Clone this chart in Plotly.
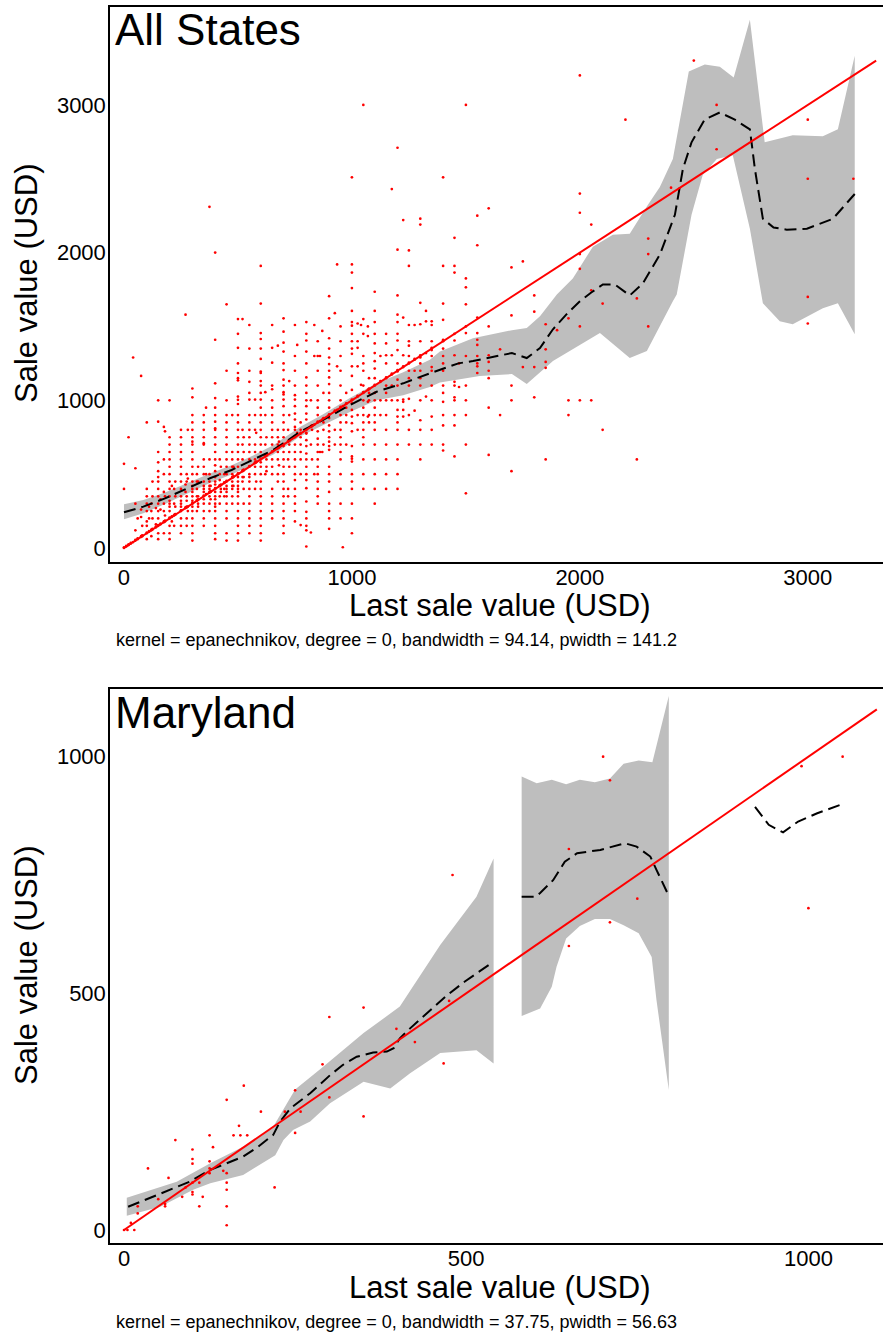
import plotly.graph_objects as go

# ---------------- data: All States (last sale value -> sale value) ----------------
# scatter points grouped by last-sale-value column
all_cols_x = [0, 10, 20, 30, 40, 50, 60, 75, 80, 100, 110, 120, 125, 140, 150, 160, 175, 180, 200, 210,
              220, 225, 250, 270, 275, 280, 300, 320, 325, 350, 360, 375, 380, 400, 420, 425, 440, 450,
              475, 480, 500, 520, 525, 550, 575, 580, 600, 620, 625, 650, 675, 680, 700, 720, 725, 750,
              760, 775, 800, 820, 825, 835, 850, 860, 870, 875, 900, 925, 935, 950, 960, 975, 1000,
              1025, 1040, 1050, 1070, 1075, 1100, 1125, 1150, 1175, 1200, 1225, 1250, 1275, 1300, 1325,
              1350, 1400, 1450, 1470, 1500, 1550, 1600, 1650, 1700, 1750, 1800, 1850, 1900, 1950, 2000,
              2050, 2100, 2200, 2250, 2300, 2400, 2500, 2600, 3000, 3200]
all_cols_y = [
    [0, 5, 400, 570],
    [10, 15],
    [20, 25, 750],
    [30, 35],
    [40, 1290],
    [50, 55, 540, 300, 120],
    [60, 65, 200],
    [75, 80, 1165, 210, 260],
    [80, 85, 150],
    [100, 105, 850, 250, 300, 180, 150, 400, 350, 60],
    [110, 115, 200, 280],
    [120, 125, 250, 300, 80],
    [125, 130, 350, 200, 450],
    [140, 145, 160, 270],
    [150, 155, 200, 250, 300, 350, 400, 855, 450, 520, 1000, 100, 60, 480, 580, 650],
    [160, 165, 260, 330],
    [175, 180, 100, 250, 300, 500, 600, 820, 380],
    [180, 185, 350, 790, 220],
    [200, 205, 150, 250, 300, 350, 400, 450, 500, 550, 600, 100, 1000, 60, 280, 320, 650, 700, 750],
    [210, 215, 180, 420],
    [220, 225, 300, 400, 150],
    [225, 230, 350, 450, 280],
    [250, 255, 200, 300, 350, 400, 450, 500, 550, 150, 100, 600, 650, 280, 320, 700, 750, 800],
    [270, 275, 1580, 380, 430],
    [275, 280, 350, 450, 500, 200, 150, 320],
    [280, 800, 470, 250],
    [300, 305, 280, 250, 350, 400, 450, 500, 550, 600, 650, 700, 200, 150, 100, 720, 1020, 1080, 900, 50, 320, 380, 420,
     750, 800, 850],
    [320, 325, 350, 400, 500, 250, 450],
    [325, 330, 300, 450, 550, 350, 280],
    [350, 355, 300, 400, 450, 500, 550, 600, 250, 200, 150, 700, 710, 380, 420, 330, 750, 800, 850, 900],
    [950, 365, 500],
    [375, 380, 350, 400, 450, 500, 300, 250, 600, 2310, 420],
    [380, 385, 420, 330],
    [400, 405, 380, 350, 300, 250, 200, 150, 100, 450, 480, 520, 560, 600, 650, 700, 750, 810, 855, 1015, 1410, 2000,
     430, 330, 280, 1115, 800, 900, 950, 60],
    [420, 425, 350, 500, 600, 300, 460],
    [425, 430, 400, 550, 380],
    [440, 445, 400, 500, 350],
    [450, 455, 400, 350, 300, 250, 200, 500, 550, 600, 700, 100, 50, 420, 380, 650, 750, 800, 850, 900, 1000, 1200, 1650],
    [475, 480, 450, 500, 550, 600, 350, 400, 300, 650, 900, 420],
    [480, 485, 420, 550],
    [500, 505, 480, 450, 400, 350, 300, 250, 200, 150, 550, 600, 650, 700, 750, 800, 850, 900, 975, 1025, 1003, 1135,
     1150, 1185, 1355, 100, 1550, 420, 380, 50, 1250, 1450],
    [520, 525, 450, 600, 700, 800, 1550, 480],
    [525, 530, 400, 300, 650, 750, 480],
    [550, 555, 500, 450, 400, 350, 300, 250, 600, 650, 700, 750, 900, 1005, 1125, 1510, 200, 480, 800, 850, 1050,
     1200, 1350, 150, 100],
    [575, 580, 550, 500, 600, 650, 700, 800, 900, 400, 1005],
    [580, 585, 450, 780],
    [600, 605, 580, 550, 500, 450, 400, 350, 300, 250, 650, 700, 750, 800, 850, 900, 1005, 1050, 1130, 1185, 1195,
     1280, 1415, 1455, 1655, 1910, 200, 100, 950, 1100, 1350, 50, 150],
    [620, 625, 500, 700, 1055, 900],
    [625, 630, 600, 550, 750, 520],
    [650, 655, 600, 550, 500, 700, 750, 800, 850, 1255, 1355, 1510, 400, 300, 1075, 900, 950, 1000, 1100, 200, 250, 350],
    [675, 680, 650, 600, 700, 750, 800, 500, 450, 1370],
    [680, 685, 720, 560],
    [700, 705, 690, 650, 600, 550, 500, 450, 400, 350, 300, 750, 800, 850, 900, 960, 1005, 1040, 1055, 1140, 1205,
     1330, 1390, 1465, 1555, 250, 150, 200, 100, 1100, 1250],
    [720, 725, 600, 800, 350, 400],
    [725, 730, 700, 650, 550, 900, 1130],
    [750, 755, 700, 650, 600, 550, 500, 460, 800, 820, 870, 910, 960, 1005, 1035, 400, 300, 180, 1510, 250, 350,
     1100, 1200, 1300],
    [1375, 780],
    [775, 780, 750, 700, 650, 800, 850, 500, 600, 155],
    [800, 805, 780, 775, 730, 690, 640, 600, 550, 500, 460, 405, 315, 245, 870, 910, 960, 1000, 1155, 1250, 1330,
     1405, 1530, 10, 120, 200, 150, 1050, 1100, 1450],
    [820, 825, 700, 1000, 105],
    [825, 830, 800, 600],
    [1510, 835, 500, 1300],
    [850, 855, 790, 740, 700, 650, 600, 900, 950, 1000, 500, 400, 1100, 1200, 1300, 300, 350, 450, 550, 1400],
    [1300, 860, 650],
    [1470, 870, 650],
    [875, 880, 850, 800, 700, 1050],
    [900, 905, 880, 830, 790, 750, 720, 690, 665, 550, 500, 950, 1000, 1110, 1155, 1200, 1245, 1290, 1350, 1420,
     1555, 1705, 380, 300, 200, 130, 450, 250, 1050],
    [925, 930, 1590, 700, 800],
    [1920, 1230, 935],
    [950, 955, 900, 850, 800, 700, 600, 1000, 1100, 1200, 1300, 500, 400, 300, 200, 1400, 1500, 750, 650],
    [5, 960],
    [975, 980, 950, 900, 850, 1050, 700],
    [1000, 1005, 980, 935, 890, 845, 790, 690, 620, 605, 585, 500, 1070, 1165, 1230, 1315, 1400, 1505, 1530, 1605,
     1760, 1865, 1920, 2510, 400, 300, 1350, 200, 100, 450, 1450],
    [1025, 1030, 1520, 1400, 1355, 1230, 900, 800],
    [1510, 1105],
    [1050, 1055, 1000, 950, 900, 800, 700, 600, 1100, 1200, 1300, 1450, 3000, 500, 400, 750, 850, 1250, 1550],
    [1070, 1435, 990, 890, 1500],
    [1075, 1080, 1050, 1000, 900, 850, 1150],
    [1100, 1105, 1050, 1000, 950, 900, 850, 800, 700, 600, 500, 1150, 1215, 1265, 1320, 1385, 1530, 1735, 1605,
     400, 300, 1450],
    [1125, 1130, 1000, 900, 1300],
    [1150, 1155, 1100, 1050, 1000, 900, 800, 700, 1305, 1385, 600, 500, 400, 1250, 1450],
    [1175, 1180, 1100, 1000, 1305, 2430],
    [1200, 1205, 1195, 1140, 935, 890, 850, 800, 700, 600, 500, 1340, 1405, 1530, 1580, 1710, 2020, 2710,
     1000, 1100, 1250, 400, 1450],
    [1225, 1230, 1005, 990, 935, 890, 2220, 1305, 1560],
    [1250, 1255, 1370, 1510, 1010, 800, 1910, 2015, 1300, 1150, 1100, 1200, 1400, 700, 900],
    [1275, 1280, 930, 1510, 1200],
    [1300, 1305, 1250, 1290, 865, 1660, 2230, 2190, 1000, 700, 1515, 1100, 1150, 1200, 1400, 800, 600],
    [1320, 1535, 1025, 1605],
    [1350, 1355, 1340, 1225, 890, 1535, 1510, 1100, 1000, 1200, 1300, 1400, 700, 800],
    [1400, 1405, 1545, 1410, 1300, 990, 830, 1655, 1910, 2510, 1100, 1050, 660, 700, 1200, 1250, 1350, 900],
    [1450, 1305, 1125, 1100, 830, 1910, 1865, 2100, 620, 1020, 1000, 900, 1405],
    [1090, 1250],
    [1500, 1455, 1300, 1100, 1000, 900, 700, 370, 1650, 1765, 1825, 3000],
    [1410, 1375, 1300, 1230, 1250, 1185, 1560, 2050, 2250, 1455],
    [1500, 1305, 1260, 1200, 1150, 950, 630, 2300],
    [1345, 900],
    [1575, 1100, 1000, 520, 1900],
    [1225, 1940],
    [1600, 1710, 1225, 1020],
    [1515, 1345, 1260, 600, 1220],
    [1475],
    [1000, 900, 1555],
    [3200, 2400, 2270, 1890, 1990, 1500, 1000],
    [1745, 1000, 2190],
    [1655, 800],
    [2900],
    [1690, 600],
    [1500, 1990, 2095],
    [2440],
    [3300],
    [3000, 2700],
    [2900, 2500, 1700, 1520],
    [2500],
]

# local polynomial smooth (Epanechnikov, degree 0) and its confidence band
smooth_all_x = [0, 85, 180, 282, 377, 472, 567, 655, 721, 772, 874, 991, 1108, 1225, 1342, 1467, 1531,
                1620, 1702, 1767, 1825, 1882, 1940, 2000, 2050, 2101, 2154, 2219, 2276, 2351, 2417, 2452,
                2490, 2548, 2614, 2680, 2746, 2768, 2803, 2850, 2908, 2996, 3110, 3206]
smooth_all_y = [242, 280, 336, 404, 472, 528, 596, 664, 731, 787, 867, 968, 1058, 1115, 1183, 1250, 1266,
                1295, 1320, 1286, 1354, 1481, 1580, 1670, 1730, 1784, 1784, 1710, 1791, 1986, 2256, 2566,
                2747, 2902, 2949, 2900, 2835, 2566, 2229, 2170, 2155, 2162, 2229, 2397]
ci_all_hi_x = [0, 85, 180, 282, 377, 472, 567, 655, 721, 772, 874, 991, 1108, 1225, 1342, 1386, 1531, 1702,
               1767, 1825, 1899, 1969, 2057, 2145, 2219, 2298, 2351, 2408, 2478, 2548, 2614, 2675, 2746,
               2811, 2934, 3066, 3132, 3206]
ci_all_hi = [296, 325, 375, 440, 505, 560, 627, 696, 763, 820, 905, 1015, 1115, 1190, 1275, 1330, 1420, 1475,
             1490, 1569, 1717, 1825, 2040, 2121, 2128, 2323, 2444, 2633, 3226, 3273, 3259, 3185, 3576, 2747,
             2795, 2788, 2835, 3333]
ci_all_lo_x = [0, 85, 180, 282, 377, 472, 567, 655, 721, 772, 874, 991, 1108, 1225, 1342, 1386, 1561, 1702,
               1767, 1882, 2088, 2219, 2294, 2408, 2425, 2490, 2539, 2601, 2671, 2746, 2803, 2877, 2934,
               3066, 3132, 3206]
ci_all_lo = [195, 235, 298, 370, 440, 497, 566, 633, 700, 755, 830, 920, 1000, 1035, 1090, 1120, 1165, 1178,
             1111, 1266, 1455, 1286, 1333, 1670, 1717, 2256, 2525, 2633, 2660, 2162, 1657, 1535, 1515, 1623,
             1657, 1448]
ref_all = [0, 3300]

# ---------------- data: Maryland ----------------
last_md = [0, 5, 15, 10, 20, 20, 35, 50, 60, 60, 65, 75, 85, 90, 100, 100, 100, 100, 100, 100,
           110, 115, 110, 125, 125, 125, 125, 130, 145, 150, 150, 150, 150, 150, 150, 160, 170, 180, 168, 175,
           200, 220, 235, 250, 250, 258, 290, 300, 300, 350, 350, 398, 425, 467, 475, 480, 650, 700, 710, 750,
           710, 650, 990, 1050, 1000]
sale_md = [0, 0, 0, 15, 35, 50, 130, 65, 55, 50, 110, 190, 70, 90, 100, 80, 75, 170, 150, 140,
           100, 70, 50, 145, 130, 120, 200, 175, 125, 275, 120, 100, 85, 50, 10, 200, 200, 200, 220, 305,
           250, 90, 250, 295, 205, 250, 350, 450, 280, 470, 240, 425, 397, 352, 484, 750, 805, 1000, 950, 700,
           650, 600, 980, 1000, 680]
smooth_md_x = [6, 38, 67, 96, 126, 152, 174, 196, 218, 228, 243, 272, 301, 320, 340, 364, 384, 394, 403, 418,
               462, 472, 498, 535, None, 581, 601, 608, 627, 644, 662, 696, 715, 732, 749, 769, 778, 796, None,
               922, 942, 963, 985, 1012, 1050]
smooth_md_y = [49, 68, 85, 102, 127, 143, 155, 176, 201, 229, 257, 289, 327, 349, 366, 375, 377, 384, 405, 426,
               484, 496, 525, 562, None, 704, 704, 712, 739, 778, 796, 803, 810, 817, 810, 789, 761, 706, None,
               894, 856, 840, 863, 880, 900]
ci_md1_hi_x = [4, 77, 126, 174, 218, 233, 250, 291, 350, 403, 462, 515, 540]
ci_md1_hi = [68, 102, 141, 176, 218, 254, 297, 345, 416, 472, 602, 704, 785]
ci_md1_lo_x = [4, 53, 101, 126, 174, 221, 233, 247, 272, 301, 350, 389, 418, 462, 515, 540]
ci_md1_lo = [30, 49, 85, 99, 116, 158, 190, 211, 229, 268, 313, 299, 331, 374, 380, 352]
ci_md2_hi_x = [581, 603, 625, 646, 666, 688, 710, 730, 752, 772, 796]
ci_md2_hi = [958, 944, 951, 942, 951, 946, 954, 985, 992, 988, 1128]
ci_md2_lo_x = [581, 608, 625, 632, 646, 666, 688, 710, 730, 752, 771, 778, 796]
ci_md2_lo = [452, 468, 514, 556, 616, 642, 657, 657, 644, 627, 577, 486, 296]
ref_md = [0, 1100]

# ---------------- figure ----------------
W, H = 883, 1334
FONT = "Liberation Sans, Arial, Helvetica, sans-serif"
GREY = "#BEBEBE"
RED = "#FF0000"

last_all = [x for x, ys in zip(all_cols_x, all_cols_y) for _ in ys]
sale_all = [y for ys in all_cols_y for y in ys]


def band(hx, hy, lx, ly):
    return hx + lx[::-1], hy + ly[::-1]


fig = go.Figure()


def add_panel(xa, ya, bands, px, py, sx, sy, ref):
    for hx, hy, lx, ly in bands:
        bx, by = band(hx, hy, lx, ly)
        fig.add_trace(go.Scatter(x=bx, y=by, xaxis=xa, yaxis=ya, mode="lines", fill="toself",
                                 fillcolor=GREY, line=dict(width=0, color=GREY), hoverinfo="skip",
                                 showlegend=False))
    fig.add_trace(go.Scatter(x=px, y=py, xaxis=xa, yaxis=ya, mode="markers",
                             marker=dict(color=RED, size=2.7, line=dict(width=0)), showlegend=False))
    fig.add_trace(go.Scatter(x=sx, y=sy, xaxis=xa, yaxis=ya, mode="lines", connectgaps=False,
                             line=dict(color="black", width=2, dash="12px,6px"), showlegend=False))
    fig.add_trace(go.Scatter(x=ref, y=ref, xaxis=xa, yaxis=ya, mode="lines",
                             line=dict(color=RED, width=2), showlegend=False))


add_panel("x", "y", [(ci_all_hi_x, ci_all_hi, ci_all_lo_x, ci_all_lo)],
          last_all, sale_all, smooth_all_x, smooth_all_y, ref_all)
add_panel("x2", "y2", [(ci_md1_hi_x, ci_md1_hi, ci_md1_lo_x, ci_md1_lo),
                       (ci_md2_hi_x, ci_md2_hi, ci_md2_lo_x, ci_md2_lo)],
          last_md, sale_md, smooth_md_x, smooth_md_y, ref_md)

x_dom = [110 / W, 1.0]
top_dom = [1 - 562 / H, 1 - 7 / H]
bot_dom = [1 - 1243 / H, 1 - 689 / H]

axis_common = dict(showgrid=False, zeroline=False, showline=True, linecolor="black", linewidth=1.5,
                   ticks="", tickfont=dict(family=FONT, size=22, color="black"))
xa_common = dict(axis_common, ticklabelstandoff=-5, mirror=True)
ya_common = dict(axis_common, ticklabelstandoff=-2)

fig.update_layout(
    width=W, height=H, autosize=False,
    margin=dict(l=0, r=0, t=0, b=0),
    paper_bgcolor="white", plot_bgcolor="white",
    font=dict(family=FONT, color="black"),
    xaxis=dict(domain=x_dom, range=[-61.4, 3330], anchor="y", tickvals=[0, 1000, 2000, 3000], **xa_common),
    yaxis=dict(domain=top_dom, range=[-94.8, 3663], anchor="x", tickvals=[0, 1000, 2000, 3000], **ya_common),
    xaxis2=dict(domain=x_dom, range=[-20.5, 1109], anchor="y2", tickvals=[0, 500, 1000], **xa_common),
    yaxis2=dict(domain=bot_dom, range=[-27.5, 1143], anchor="x2", tickvals=[0, 500, 1000], **ya_common),
)


def ann(text, xpx, ypx, size, xanchor="left", angle=0):
    fig.add_annotation(text=text, x=xpx / W, y=1 - ypx / H, xref="paper", yref="paper",
                       xanchor=xanchor, yanchor="middle", showarrow=False, textangle=angle,
                       font=dict(family=FONT, size=size, color="black"))


ann("All States", 113, 30, 44)
ann("Maryland", 113, 712, 44)
ann("Last sale value (USD)", 500, 605, 31, xanchor="center")
ann("Last sale value (USD)", 500, 1287, 31, xanchor="center")
ann("Sale value (USD)", 26, 284, 31, xanchor="center", angle=-90)
ann("Sale value (USD)", 26, 966, 31, xanchor="center", angle=-90)
ann("kernel = epanechnikov, degree = 0, bandwidth = 94.14, pwidth = 141.2", 114, 640, 18)
ann("kernel = epanechnikov, degree = 0, bandwidth = 37.75, pwidth = 56.63", 114, 1322, 18)

fig.write_html("out.html")
